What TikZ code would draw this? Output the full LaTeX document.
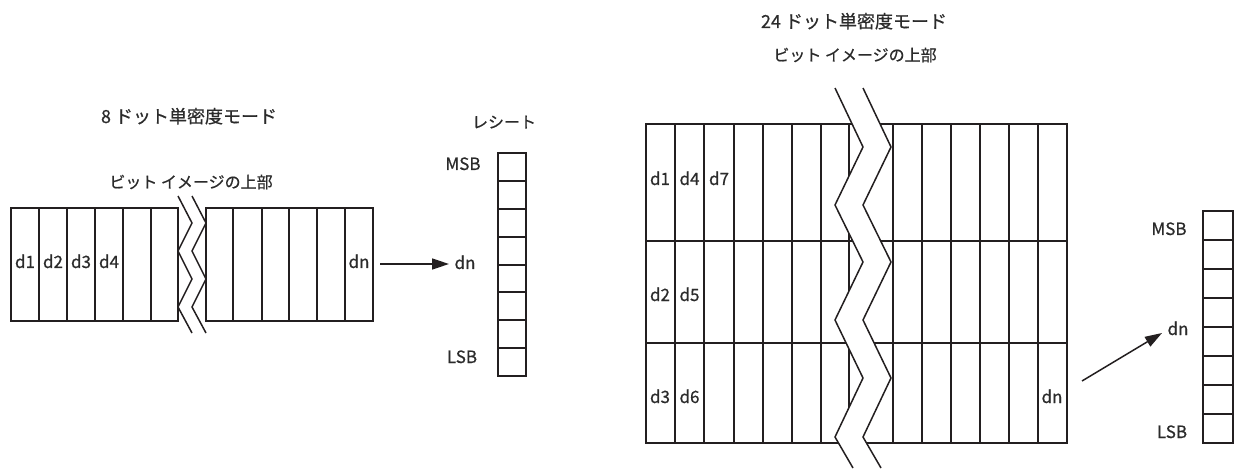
\documentclass[tikz,border=0pt]{standalone}
\usepackage{fontspec}
\setmainfont{Noto Sans CJK JP}[FakeBold=0.6]
\usetikzlibrary{arrows.meta}
\definecolor{ink}{HTML}{231F20}
\definecolor{txt}{HTML}{2B2B2B}
\begin{document}
\begin{tikzpicture}[x=1pt,y=-1pt,
  grid/.style={draw=ink,line width=1.5pt},
  zig/.style={draw=ink,line width=1.5pt,line join=miter},
  lab/.style={text=txt,font=\fontsize{17}{17}\selectfont,anchor=base,inner sep=0pt},
  ttl/.style={text=txt,font=\fontsize{18}{18}\selectfont,anchor=base,inner sep=0pt},
  sub/.style={text=txt,font=\fontsize{16}{16}\selectfont,anchor=base,inner sep=0pt},
  arr/.style={draw=ink,line width=1.5pt,-{Triangle[length=17pt,width=11pt]}}]
\useasboundingbox (0,0) rectangle (1236,470);

% ---------- left: 8 dot ----------
\node[ttl] (t8) at (189,123) {8 ドット単密度モード};
\node[sub] (s8) at (191,188) {ビット イメージの上部};
% left block
\draw[grid] (11,208) rectangle (178,321);
\foreach \x in {39,67,95,123,151} \draw[grid] (\x,208) -- (\x,321);
% right block
\draw[grid] (206,208) rectangle (373,321);
\foreach \x in {233,262,289,317,345} \draw[grid] (\x,208) -- (\x,321);
% zigzags
\draw[zig] (178,196) -- (192,223) -- (178,251) -- (192,279) -- (178,307) -- (192,333);
\draw[zig] (192,196) -- (206,223) -- (192,251) -- (206,279) -- (192,307) -- (206,333);
\node[lab] (l1) at (25,268) {d1};
\node[lab] (l2) at (53,268) {d2};
\node[lab] (l3) at (81,268) {d3};
\node[lab] (l4) at (109,268) {d4};
\node[lab] (ldn) at (359,268) {dn};
\coordinate (la) at (380,264);
\coordinate (lb) at (449,264);
\draw[arr] (la) -- (lb);
\node[lab] (ldn2) at (465,269) {dn};
% receipt left
\node[sub] (rc) at (504,128) {レシート};
\draw[grid] (498,153) rectangle (526,376);
\foreach \y in {181,209,237,265,292,320,348} \draw[grid] (498,\y) -- (526,\y);
\node[lab] (lm) at (463,170) {MSB};
\node[lab] (ll) at (462,363) {LSB};

% ---------- right: 24 dot ----------
\node[ttl] (t24) at (854,28) {24 ドット単密度モード};
\node[sub] (s24) at (855,61) {ビット イメージの上部};
\draw[grid] (646,124) rectangle (1067,443);
\foreach \x in {675,704,734,763,792,821,849,893,922,951,980,1009,1038}
  \draw[grid] (\x,124) -- (\x,443);
\draw[grid] (646,241) -- (1067,241);
\draw[grid] (646,343) -- (1067,343);
% white band
\fill[white] (835,88) -- (863,147) -- (835,205) -- (863,262) -- (835,320) -- (863,378) -- (835,437) -- (853,468)
  -- (881,468) -- (863,437) -- (891,378) -- (863,320) -- (891,262) -- (863,205) -- (891,147) -- (863,88) -- cycle;
\draw[zig] (835,88) -- (863,147) -- (835,205) -- (863,262) -- (835,320) -- (863,378) -- (835,437) -- (853,468);
\draw[zig] (863,88) -- (891,147) -- (863,205) -- (891,262) -- (863,320) -- (891,378) -- (863,437) -- (881,468);
\node[lab] (r1) at (660,185) {d1};
\node[lab] (r4) at (689.5,185) {d4};
\node[lab] (r7) at (719,185) {d7};
\node[lab] (r2) at (660,301) {d2};
\node[lab] (r5) at (689.5,301) {d5};
\node[lab] (r3) at (660,403) {d3};
\node[lab] (r6) at (689.5,403) {d6};
\node[lab] (rdn) at (1052,403) {dn};
\coordinate (ra) at (1082,381);
\coordinate (rb) at (1162,333);
\draw[arr] (ra) -- (rb);
\node[lab] (rdn2) at (1178,335) {dn};
% receipt right
\draw[grid] (1203,211) rectangle (1233,443);
\foreach \y in {240,269,298,327,356,385,414} \draw[grid] (1203,\y) -- (1233,\y);
\node[lab] (rm) at (1169,235) {MSB};
\node[lab] (rl) at (1172,438) {LSB};
\end{tikzpicture}
\end{document}
